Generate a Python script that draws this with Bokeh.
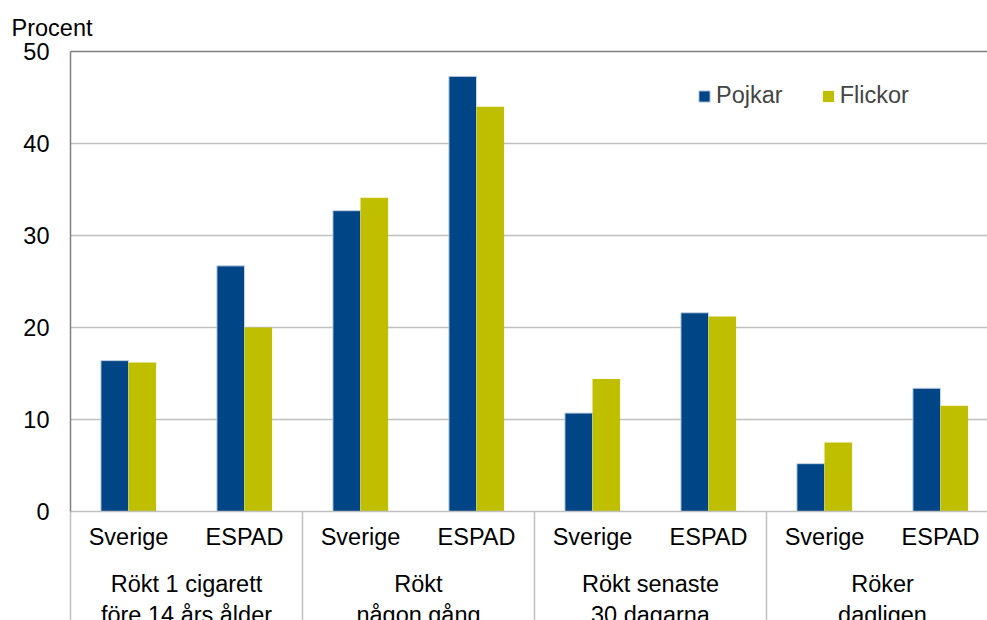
from bokeh.plotting import figure
from bokeh.models import FixedTicker, LinearAxis, Range1d
from bokeh.embed import file_html
from bokeh.resources import INLINE

groups = ["Rökt 1 cigarett\nföre 14 års ålder", "Rökt\nnågon gång",
          "Rökt senaste\n30 dagarna", "Röker\ndagligen"]
subs = ["Sverige", "ESPAD"]
pojkar = [16.4, 26.7, 32.7, 47.3, 10.7, 21.6, 5.2, 13.4]
flickor = [16.2, 20.0, 34.1, 44.0, 14.4, 21.2, 7.5, 11.5]
y_ticks = [0, 10, 20, 30, 40, 50]

FONT = "Liberation Sans"
FS = "23.5px"
BLUE = "#004586"
YELLOW = "#bfbf00"
GRID = "#c0c0c0"
DARK = "#808080"

n_sub = len(subs)
n_grp = len(groups)
centers = [g + (s + 0.5) / n_sub for g in range(n_grp) for s in range(n_sub)]
sub_labels = {c: subs[i % n_sub] for i, c in enumerate(centers)}
grp_centers = [g + 0.5 for g in range(n_grp)]
grp_labels = {c: groups[i] for i, c in enumerate(grp_centers)}
bw = 0.119

p = figure(frame_width=917, frame_height=460,
           x_range=Range1d(0, 917 / 232), y_range=Range1d(0, 50),
           output_backend="svg", toolbar_location=None,
           x_axis_location=None, y_axis_location=None,
           min_border_left=70, min_border_right=0, min_border_top=51,
           min_border_bottom=0)
p.outline_line_color = None
p.xgrid.visible = False

p.vbar(x=[c - bw / 2 for c in centers], top=pojkar, width=bw, bottom=0,
       fill_color=BLUE, line_color="#c6d3e3", line_width=1,
       legend_label="Pojkar")
p.vbar(x=[c + bw / 2 for c in centers], top=flickor, width=bw, bottom=0,
       fill_color=YELLOW, line_color=None, legend_label="Flickor")

# grid
p.ygrid.ticker = FixedTicker(ticks=y_ticks)
p.ygrid.grid_line_color = GRID
p.ygrid.grid_line_width = 1.5

# left axis
yax = LinearAxis(ticker=FixedTicker(ticks=y_ticks),
                 axis_line_color=DARK, axis_line_width=1.5,
                 major_tick_out=0, major_tick_in=0,
                 minor_tick_out=0, minor_tick_in=0,
                 major_label_standoff=21,
                 major_label_text_font=FONT, major_label_text_font_size=FS,
                 major_label_text_color="black")
p.add_layout(yax, "left")

# top border line
tax = LinearAxis(ticker=FixedTicker(ticks=[]), axis_line_color=DARK,
                 axis_line_width=1.5, major_tick_out=0, major_tick_in=0,
                 minor_tick_out=0, minor_tick_in=0, major_label_standoff=0,
                 major_label_text_font_size="0px")
p.add_layout(tax, "above")

# sub-category axis
sax = LinearAxis(ticker=FixedTicker(ticks=centers),
                 major_label_overrides=sub_labels,
                 axis_line_color=GRID, axis_line_width=1.5,
                 major_tick_line_color=None, major_tick_out=0, major_tick_in=0,
                 minor_tick_out=0, minor_tick_in=0,
                 major_label_standoff=12,
                 major_label_text_font=FONT, major_label_text_font_size=FS,
                 major_label_text_color="black")
p.add_layout(sax, "below")

# group axis
gax = LinearAxis(ticker=FixedTicker(ticks=grp_centers),
                 major_label_overrides=grp_labels,
                 axis_line_color=None,
                 major_tick_line_color=None, major_tick_out=0, major_tick_in=0,
                 minor_tick_out=0, minor_tick_in=0,
                 major_label_standoff=18,
                 major_label_text_font=FONT, major_label_text_font_size=FS,
                 major_label_text_color="black")
p.add_layout(gax, "below")

# separator axis (lowest): inward minor ticks at group boundaries
bax = LinearAxis(ticker=FixedTicker(ticks=[], minor_ticks=list(range(n_grp + 1))),
                 axis_line_color=None,
                 major_tick_out=0, major_tick_in=0,
                 minor_tick_out=0, minor_tick_in=119,
                 minor_tick_line_color=GRID, minor_tick_line_width=1.5,
                 major_label_standoff=0, major_label_text_font_size="0px")
p.add_layout(bax, "below")

# title
p.title.text = "Procent"
p.title.text_font = FONT
p.title.text_font_size = FS
p.title.text_font_style = "normal"
p.title.text_color = "black"
p.title.align = "left"
p.title.offset = -59
p.title.standoff = 21

# legend
lg = p.legend[0]
lg.location = (627, 402)
lg.orientation = "horizontal"
lg.glyph_width = 14
lg.glyph_height = 14
lg.label_standoff = 5
lg.spacing = 38
lg.padding = 0
lg.margin = 0
lg.border_line_color = None
lg.background_fill_alpha = 0
lg.label_text_font = FONT
lg.label_text_font_size = FS

open("out.html", "w").write(file_html(p, INLINE))
